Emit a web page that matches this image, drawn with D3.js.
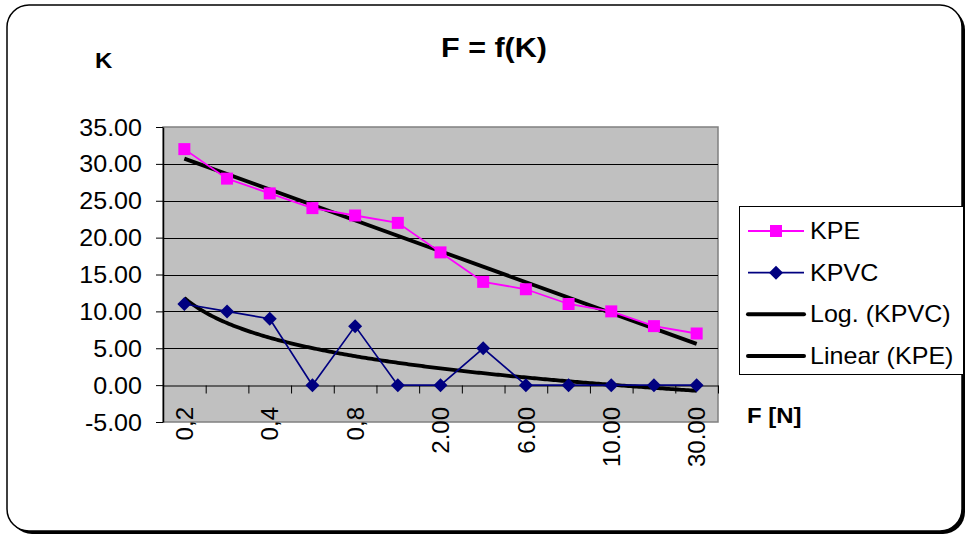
<!DOCTYPE html>
<html>
<head>
<meta charset="utf-8">
<script src="https://cdn.jsdelivr.net/npm/d3@7"></script>
<style>
  html, body { margin: 0; padding: 0; background: #fff; }
  svg text { font-family: "Liberation Sans", Arial, sans-serif; fill: #000; }
</style>
</head>
<body>
<svg id="chart" width="966" height="535"></svg>
<script>
// Force F (categories) and measured K values
const categories = ["0,2", "0,3", "0,4", "0,6", "0,8", "1.00", "2.00", "4.00", "6.00", "8.00", "10.00", "20.00", "30.00"];
const labelledCategories = ["0,2", "0,4", "0,8", "2.00", "6.00", "10.00", "30.00"];
const kpe = [32, 28, 26, 24, 23, 22, 18, 14, 13, 11, 10, 8, 7];
const kpvc = [11, 10, 9, 0, 8, 0, 0, 5, 0, 0, 0, 0, 0];
const yTickValues = [-5, 0, 5, 10, 15, 20, 25, 30, 35];
const legendNames = ["KPE", "KPVC", "Log. (KPVC)", "Linear (KPE)"];

const svg = d3.select("#chart");
const stretch = 1.09;   // text is drawn slightly wide

const plot = { left: 163, right: 718, top: 127, bottom: 422 };

// chart frame with drop shadow
svg.append("rect").attr("x", 10).attr("y", 8).attr("width", 955).attr("height", 526)
  .attr("rx", 22).attr("fill", "#000");
svg.append("rect").attr("x", 7).attr("y", 5).attr("width", 955).attr("height", 526)
  .attr("rx", 22).attr("fill", "#fff").attr("stroke", "#000").attr("stroke-width", 1.5);

const x = d3.scaleBand().domain(categories).range([plot.left, plot.right]).paddingInner(0).paddingOuter(0);
const bw = x.bandwidth();
const cx = c => x(c) + bw / 2;
const xIdx = d3.scaleLinear().domain([1, categories.length])
  .range([cx(categories[0]), cx(categories[categories.length - 1])]);
const xEdge = d3.scaleLinear().domain([0, categories.length]).range([plot.left, plot.right]);
const y = d3.scaleLinear().domain([-5, 35]).range([plot.bottom, plot.top]);

// plot area
svg.append("rect").attr("x", plot.left).attr("y", plot.top)
  .attr("width", plot.right - plot.left).attr("height", plot.bottom - plot.top)
  .attr("fill", "#c0c0c0").attr("stroke", "#808080").attr("stroke-width", 1.5);

// horizontal gridlines
svg.append("g").selectAll("line").data(yTickValues.filter(v => v > 0 && v < 35)).join("line")
  .attr("x1", plot.left).attr("x2", plot.right)
  .attr("y1", d => Math.round(y(d)) + 0.5).attr("y2", d => Math.round(y(d)) + 0.5)
  .attr("stroke", "#000").attr("stroke-width", 1);

// value axis
const yAxis = svg.append("g").attr("transform", `translate(${plot.left},0)`)
  .call(d3.axisLeft(y).tickValues(yTickValues).tickFormat(d => d.toFixed(2)).tickSize(7).tickSizeOuter(0));
yAxis.select(".domain").attr("stroke", "#000").attr("stroke-width", 1.5);
yAxis.selectAll(".tick line").attr("stroke", "#000");
yAxis.selectAll(".tick text")
  .attr("x", null).attr("dy", null)
  .attr("transform", `translate(-21,8) scale(${stretch},1)`)
  .attr("font-size", 23).attr("font-family", "Liberation Sans, Arial, sans-serif")
  .attr("text-anchor", "end");

// category axis at K = 0
const xAxis = svg.append("g").attr("transform", `translate(0,${Math.round(y(0)) + 0.5})`)
  .call(d3.axisBottom(xEdge).tickValues(d3.range(0, categories.length + 1)).tickFormat("").tickSize(8).tickSizeOuter(0));
xAxis.select(".domain").attr("stroke", "#000").attr("stroke-width", 1.2);
xAxis.selectAll(".tick line").attr("stroke", "#000");

svg.append("g").selectAll("text").data(labelledCategories).join("text")
  .attr("transform", d => `translate(${cx(d)},407) rotate(-90)`)
  .attr("text-anchor", "end").attr("dy", "0.36em")
  .attr("font-size", 24)
  .text(d => d);

// least-squares fit helper
const xs = d3.range(1, categories.length + 1);
function regress(xv, yv) {
  const mx = d3.mean(xv), my = d3.mean(yv);
  const sxy = d3.sum(xv, (v, i) => (v - mx) * (yv[i] - my));
  const sxx = d3.sum(xv, v => (v - mx) * (v - mx));
  const slope = sxy / sxx;
  return { slope, intercept: my - slope * mx };
}
const lin = regress(xs, kpe);
const logFit = regress(xs.map(Math.log), kpvc);

const lineIdx = d3.line().x(d => xIdx(d[0])).y(d => y(d[1]));

// logarithmic trend of KPVC
const logPts = d3.range(1, categories.length + 0.001, 0.05).map(t => [t, logFit.intercept + logFit.slope * Math.log(t)]);
svg.append("path").datum(logPts).attr("d", lineIdx)
  .attr("fill", "none").attr("stroke", "#000").attr("stroke-width", 3.8);

// linear trend of KPE
svg.append("path").datum([1, categories.length].map(t => [t, lin.intercept + lin.slope * t])).attr("d", lineIdx)
  .attr("fill", "none").attr("stroke", "#000").attr("stroke-width", 3.8);

// KPVC series
const lineCat = d3.line().x((d, i) => cx(categories[i])).y(d => y(d));
svg.append("path").datum(kpvc).attr("d", lineCat)
  .attr("fill", "none").attr("stroke", "#000080").attr("stroke-width", 1.7);
const diamond = s => `M0,${-s}L${s},0L0,${s}L${-s},0Z`;
svg.append("g").selectAll("path").data(kpvc).join("path")
  .attr("transform", (d, i) => `translate(${cx(categories[i])},${y(d)})`)
  .attr("d", diamond(7)).attr("fill", "#000080");

// KPE series
svg.append("path").datum(kpe).attr("d", lineCat)
  .attr("fill", "none").attr("stroke", "#ff00ff").attr("stroke-width", 1.8);
svg.append("g").selectAll("rect").data(kpe).join("rect")
  .attr("x", (d, i) => cx(categories[i]) - 6).attr("y", d => y(d) - 6)
  .attr("width", 12).attr("height", 12).attr("fill", "#ff00ff");

// titles
svg.append("text").attr("transform", `translate(494,57) scale(${stretch},1)`)
  .attr("text-anchor", "middle").attr("font-size", 28).attr("font-weight", "bold").text("F = f(K)");
svg.append("text").attr("transform", `translate(95,68) scale(${stretch},1)`)
  .attr("font-size", 22).attr("font-weight", "bold").text("K");
svg.append("text").attr("transform", `translate(747,423) scale(${stretch},1)`)
  .attr("font-size", 22).attr("font-weight", "bold").text("F [N]");

// legend
const lg = svg.append("g");
lg.append("rect").attr("x", 739.5).attr("y", 206.5).attr("width", 224).attr("height", 168)
  .attr("fill", "#fff").attr("stroke", "#000").attr("stroke-width", 1);
const legendY = d3.scalePoint().domain(legendNames).range([231, 356]);
const styles = [
  { color: "#ff00ff", width: 1.8, marker: "square" },
  { color: "#000080", width: 1.7, marker: "diamond" },
  { color: "#000", width: 4, marker: null },
  { color: "#000", width: 4, marker: null }
];
legendNames.forEach((name, i) => {
  const yy = legendY(name);
  const st = styles[i];
  lg.append("line").attr("x1", 748).attr("x2", 804).attr("y1", yy).attr("y2", yy)
    .attr("stroke", st.color).attr("stroke-width", st.width).attr("stroke-linecap", st.marker ? "butt" : "round");
  if (st.marker === "square") {
    lg.append("rect").attr("x", 770).attr("y", yy - 6).attr("width", 12).attr("height", 12).attr("fill", st.color);
  } else if (st.marker === "diamond") {
    lg.append("path").attr("transform", `translate(776,${yy})`).attr("d", diamond(7)).attr("fill", st.color);
  }
  lg.append("text").attr("transform", `translate(810,${yy + 8}) scale(${stretch},1)`)
    .attr("font-size", 23).text(name);
});
</script>
</body>
</html>
